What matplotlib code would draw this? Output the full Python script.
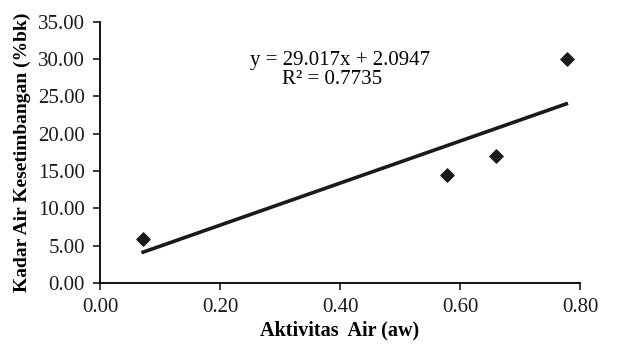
import numpy as np
import matplotlib
matplotlib.use("Agg")
import matplotlib.pyplot as plt

# data
aw = [0.071, 0.579, 0.660, 0.778]
kadar_air = [5.85, 14.43, 17.01, 29.96]
eq_text = "y = 29.017x + 2.0947"
r2_text = "R² = 0.7735"
xticks = [0.0, 0.2, 0.4, 0.6, 0.8]
yticks = [0, 5, 10, 15, 20, 25, 30, 35]

plt.rcParams["font.family"] = ["Liberation Serif", "DejaVu Serif"]

fig = plt.figure(figsize=(6.19, 3.45), dpi=100)
ax = fig.add_axes([0.1616, 0.1797, 0.7754, 0.7574])

ax.scatter(aw, kadar_air, marker="D", s=45, color="#1a1a1a", zorder=3)

# linear trendline
slope, intercept = np.polyfit(aw, kadar_air, 1)
xs = np.array([min(aw) - 0.002, max(aw) + 0.002])
ax.plot(xs, slope * xs + intercept, color="#1a1a1a", lw=2.6, solid_capstyle="butt")

ax.text(0.400, 29.2, eq_text, ha="center", va="baseline", fontsize=15)
ax.text(0.387, 26.6, r2_text, ha="center", va="baseline", fontsize=15)

ax.set_xlim(0, 0.8)
ax.set_ylim(0, 35)
ax.set_xticks(xticks)
ax.set_yticks(yticks)
ax.set_xticklabels([f"{v:.2f}" for v in xticks])
ax.set_yticklabels([f"{v:.2f}" for v in yticks])
ax.tick_params(labelsize=15, direction="out", length=5, width=1.2, colors="#1a1a1a")
ax.tick_params(axis="y", pad=6)
ax.tick_params(axis="x", pad=6)

for s in ["top", "right"]:
    ax.spines[s].set_visible(False)
for s in ["left", "bottom"]:
    ax.spines[s].set_linewidth(1.3)

ax.set_xlabel("Aktivitas  Air (aw)", fontsize=14.5, fontweight="bold", labelpad=2)
ax.set_ylabel("Kadar Air Kesetimbangan (%bk)", fontsize=14, fontweight="bold", labelpad=5)

fig.savefig("out.png", dpi=100)
